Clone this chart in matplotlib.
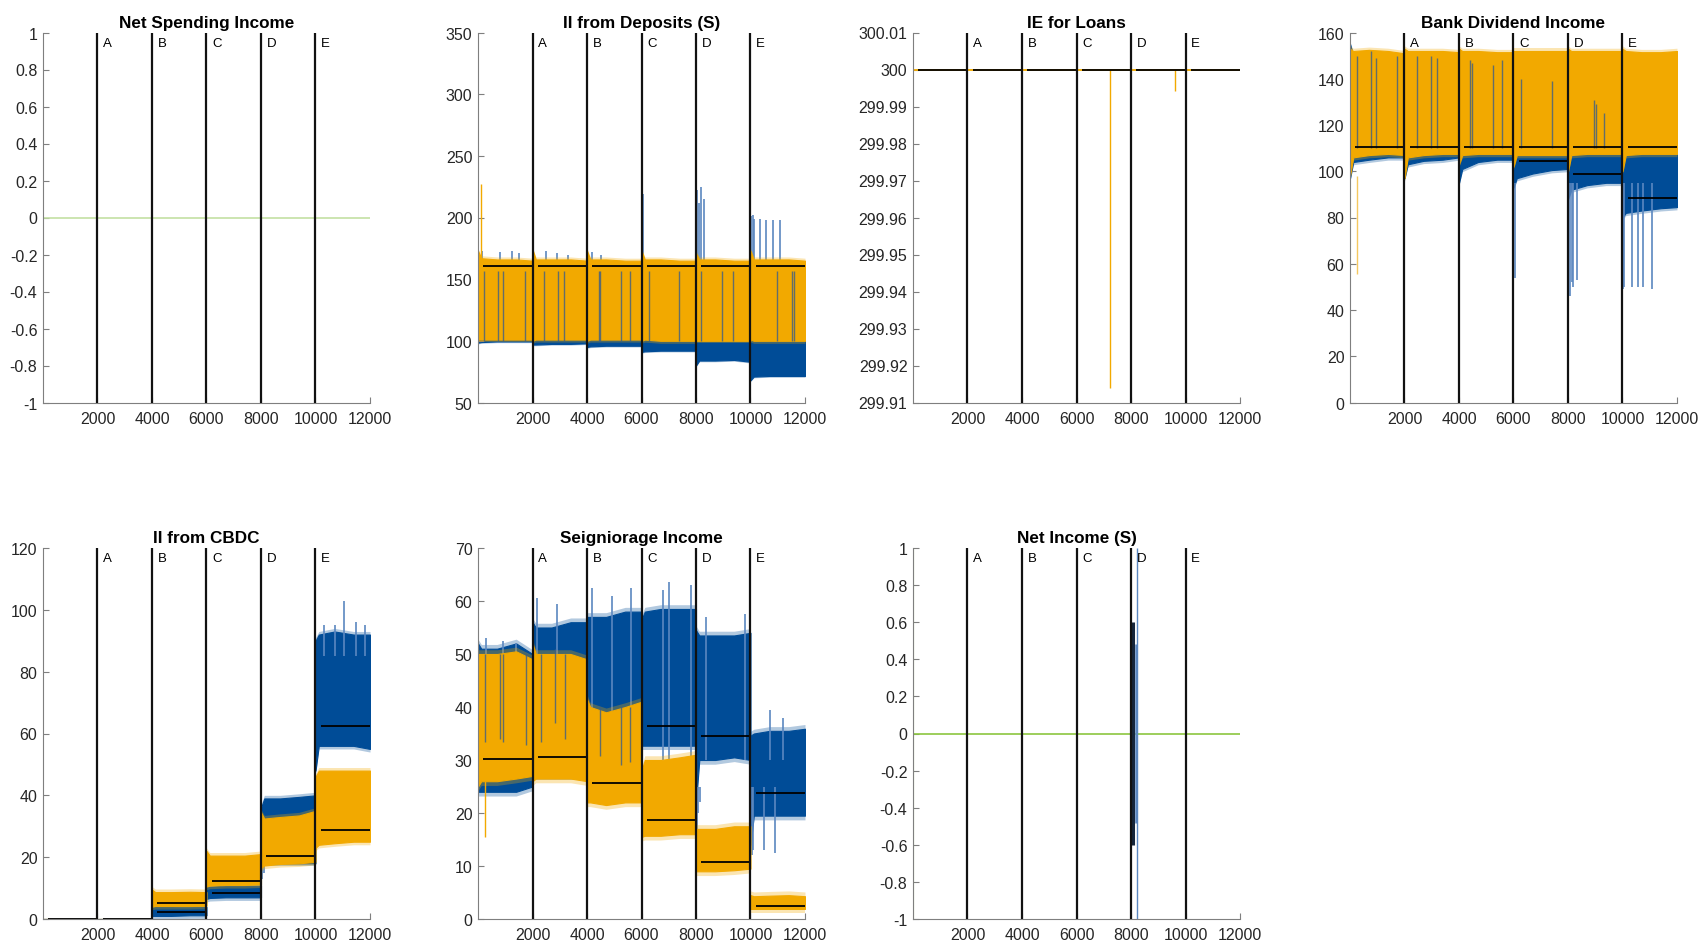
import numpy as np
import matplotlib.pyplot as plt
from matplotlib.transforms import blended_transform_factory

plt.rcParams['font.family'] = ['Liberation Sans', 'DejaVu Sans']

# Couleurs des deux séries
BLEU = '#004C97'
BLEU_CLAIR = '#5b87c0'
ORANGE = '#F2A900'
GRIS_AXE = '#7f7f7f'

# Bornes des scénarios et lettres associées
bornes = [2000, 4000, 6000, 8000, 10000]
lettres = ['A', 'B', 'C', 'D', 'E']
xticks = [2000, 4000, 6000, 8000, 10000, 12000]

# Position relative des 5 points lus dans chaque segment de 2000 pas
fractions = [0, 0.06, 0.35, 0.7, 1.0]

# II from Deposits (S)
dep_bleu_bas = [[98.5, 99, 99.5, 99.5, 99.5], [97, 97, 97.5, 97.5, 98], [95, 95.5, 96, 96, 96],
                [91, 91.5, 92, 92, 92], [80, 84, 84, 84.5, 83], [68, 71, 71.5, 71.5, 71.5]]
dep_bleu_haut = [[160, 160, 160, 160, 160]] * 6
dep_orange_bas = [[101, 101, 101, 101, 101], [100, 101, 101, 101, 101], [100, 101, 101, 101, 101],
                  [100, 101, 100, 100, 100], [100, 100, 100, 100, 100], [101, 100, 100, 100, 100]]
dep_orange_haut = [[173, 167, 166, 166, 165], [174, 166, 166, 166, 165], [173, 166, 166, 165, 165],
                   [173, 166, 166, 165, 165], [171, 166, 166, 165, 165], [173, 166, 166, 166, 165]]
dep_moy_orange = [160.8, 160.8, 160.6, 160.6, 160.6, 160.6]
dep_pics_bleu_x = [150, 800, 1250, 1500, 2500, 2900, 3300, 4200, 4500, 6040,
                   8030, 8120, 8190, 8290, 10030, 10080, 10130, 10340, 10580, 10830, 11070]
dep_pics_bleu_y = [173, 172, 173, 171, 173, 171, 170, 172, 170, 219,
                   222, 212, 225, 215, 201, 202, 199, 199, 198, 198, 198]
dep_pics_orange_x = [120]
dep_pics_orange_y = [227]
dep_traits_x = [208, 746, 917, 1725, 2422, 2936, 3144, 4428, 4490, 5235, 5565, 6263, 7376,
                8196, 8966, 9358, 10985, 11535, 11584]
dep_traits_haut = [157] * 19
dep_traits_bas = [100] * 19

# IE for Loans
ie_niveau = 300
ie_pics_x = [7241, 9627]
ie_pics_y = [299.9138, 299.9942]

# Bank Dividend Income
div_bleu_bas = [[97, 104, 105, 106, 106], [97, 103, 104.5, 105, 106], [95, 101, 104, 105, 105],
                [93, 97, 99, 100.5, 101], [88, 92, 94, 95, 95], [80, 82, 83, 84, 84.5]]
div_bleu_haut = [[155, 150, 150, 150, 150]] + [[150, 150, 150, 150, 150]] * 5
div_orange_bas = [[98, 106, 107, 107.5, 107], [97, 106, 107, 107.5, 107.5], [103, 107, 107.5, 107.5, 107.5],
                  [102, 107, 107, 107, 107], [100, 107, 107.5, 107.5, 107.5], [100, 107, 107.5, 107.5, 107.5]]
div_orange_haut = [[153, 152, 152.5, 152, 151], [153, 152, 152, 152, 151.5], [153, 152, 152, 151.5, 151.5],
                   [152, 152, 152, 152, 152], [153, 152, 152, 152, 152], [153, 152, 151.5, 151.5, 152]]
div_moy_orange = [110.6, 110.5, 110.5, 110.5, 110.5, 110.5]
div_moy_bleu = [None, None, None, 104.6, 98.8, 88.5]
div_pics_bleu_x = [6055, 8073, 8150, 8200, 8330, 10018, 10060, 10360, 10560, 10750, 11080]
div_pics_bleu_y = [54, 46, 52, 50, 53, 49, 50, 50, 50, 50, 49]
div_pics_orange_x = [268]
div_pics_orange_y = [55.7]
div_traits_x = [245, 771, 942, 1713, 2446, 2961, 3181, 4404, 4495, 5260, 5590, 6263, 7400, 8966, 9010, 9327]
div_traits_haut = [150, 152, 149, 150, 150, 150, 149, 148, 147, 146, 148, 140, 139, 131, 129, 125]
div_traits_bas = [110] * 16

# II from CBDC
cbdc_bleu_bas = [[0, 0, 0, 0, 0], [0, 0, 0, 0, 0], [1, 1, 1, 1.2, 1.2],
                 [6.5, 6.8, 7, 7, 7], [18, 18, 18, 18, 18], [48, 56, 56, 56, 55]]
cbdc_bleu_haut = [[0, 0, 0, 0, 0], [0, 0, 0, 0, 0], [3.8, 3.9, 3.9, 4, 3.9],
                  [10.5, 10.5, 10.8, 10.8, 10.8], [36, 39, 39, 39.5, 40], [90, 92, 93, 92, 92]]
cbdc_orange_bas = [[0, 0, 0, 0, 0], [0, 0, 0, 0, 0], [4, 4.2, 4.2, 4.2, 4.3],
                   [10.5, 10.8, 11, 11, 11.2], [16.5, 17.3, 17.8, 18, 18.5], [23, 24, 24.5, 25, 25]]
cbdc_orange_haut = [[0, 0, 0, 0, 0], [0, 0, 0, 0, 0], [9.5, 8.7, 8.7, 8.8, 8.7],
                    [22, 20.5, 20.5, 20.5, 21], [34.5, 32.5, 33, 33.5, 35], [46, 48, 48, 48, 48]]
cbdc_moy_orange = [0, 0, 5.1, 12.2, 20.5, 28.8]
cbdc_moy_bleu = [None, None, 2.2, 8.4, None, 62.5]
cbdc_pics_bleu_x = [10300, 10700, 11050, 11500, 11800]
cbdc_pics_bleu_y = [95, 95, 103, 96, 95]
cbdc_creux_bleu_x = [8050, 8120]
cbdc_creux_bleu_y = [13, 15]

# Seigniorage Income
sei_bleu_bas = [[24, 24, 24, 24, 25], [27, 27, 27, 27, 27], [36, 36, 36, 36, 36],
                [32.7, 32.7, 32.7, 32.7, 32.7], [22, 30, 30, 30.5, 30], [14, 19.5, 19.5, 19.5, 19.5]]
sei_bleu_haut = [[52, 51, 51, 52, 50], [56, 55, 55, 56, 56], [57, 57, 57, 58, 58],
                 [56.5, 58, 58.5, 58.5, 58.5], [54.5, 53.5, 53.5, 53.5, 54], [34.6, 35, 35.5, 35.5, 35.9]]
sei_orange_bas = [[25, 26, 26, 26.5, 27], [26, 26.5, 26.5, 26.5, 26], [22, 22, 21.5, 22, 22],
                  [15.5, 15.7, 15.7, 16, 16], [9, 9, 9, 9.2, 9.5], [1.9, 1.9, 1.9, 1.9, 1.9]]
sei_orange_haut = [[50, 50, 50, 50.5, 49], [52, 50, 50, 50, 49], [41.5, 40, 39, 40, 41],
                   [28, 30, 30, 30.5, 31], [17, 17, 17, 17.5, 17.5], [4.5, 4.3, 4.4, 4.5, 4.3]]
sei_moy_orange = [30.2, 30.5, 25.7, 18.75, 10.8, 2.5]
sei_moy_bleu = [None, None, None, 36.5, 34.6, 23.7]
sei_pics_bleu_x = [300, 900, 1400, 2150, 2900, 4200, 4900, 5600, 6800, 7000, 7800, 8350, 9800, 10700, 11200]
sei_pics_bleu_y = [53, 52.5, 52, 60.5, 59.5, 62.5, 61, 62.5, 62, 63.5, 63, 57, 57.5, 39.5, 38]
sei_creux_bleu_x = [8030, 8080, 8150, 10040, 10100, 10500, 10900]
sei_creux_bleu_y = [17, 20, 22, 12, 13, 13, 12.5]
sei_pics_orange_x = [250]
sei_pics_orange_y = [15.5]
sei_traits_x = [245, 795, 918, 1750, 2324, 2814, 3180, 4465, 5260, 5566]
sei_traits_haut = [50, 50, 50, 50, 50, 51, 50, 40, 40, 40]
sei_traits_bas = [33.4, 34, 33.4, 32.8, 33.4, 37, 34, 30.8, 29, 29.6]

# Net Income (S)
ni_trait_noir = (8070, -0.6, 0.6)
ni_traits_bleus_x = [8195, 8230]
ni_traits_bleus_bas = [-0.48, -1]
ni_traits_bleus_haut = [0.48, 1]

# Ordre de superposition
Z_BLEU, Z_PICS_BLEU, Z_ORANGE, Z_PICS_ORANGE, Z_TRAITS = 1, 1.5, 2, 2.5, 3


def trace_bande(ax, bas, haut, couleur, frange, z):
    for i in range(len(bas)):
        x = i * 2000 + 1 + np.array(fractions) * 1999
        b = np.array(bas[i], dtype=float)
        h = np.array(haut[i], dtype=float)
        ax.fill_between(x, b, h, color=couleur, lw=0.8, edgecolor=couleur, zorder=z)
        # bord plus clair pour imiter le bruit des séries
        if frange > 0 and (h - b).max() > 0:
            ax.fill_between(x, h, h + frange, color=couleur, lw=0, alpha=0.3, zorder=z)
            ax.fill_between(x, b - frange, b, color=couleur, lw=0, alpha=0.3, zorder=z)


def trace_moyennes(ax, moyennes):
    for i, m in enumerate(moyennes):
        if m is not None:
            ax.hlines(m, i * 2000 + 200, (i + 1) * 2000, color='black', lw=1.3, zorder=4)


def mise_en_forme(ax, titre, yticks):
    ax.set_xlim(0, 12000)
    ax.set_ylim(yticks[0], yticks[-1])
    ax.set_xticks(xticks)
    ax.set_xticklabels([str(t) for t in xticks])
    ax.set_yticks(yticks)
    ax.set_yticklabels([f'{t + 0.0:g}' for t in yticks])
    for s in ['top', 'right']:
        ax.spines[s].set_visible(False)
    for s in ['left', 'bottom']:
        ax.spines[s].set_color(GRIS_AXE)
        ax.spines[s].set_linewidth(0.8)
    ax.tick_params(direction='in', length=4, width=0.8, color=GRIS_AXE,
                   labelcolor='#262626', labelsize=11.5)
    ax.tick_params(axis='x', pad=6)
    ax.tick_params(axis='y', pad=4)
    ax.set_title(titre, fontweight='bold', fontsize=12.3, pad=4)
    # Lignes de séparation des scénarios
    trans = blended_transform_factory(ax.transData, ax.transAxes)
    for b, l in zip(bornes, lettres):
        ax.axvline(b, color='#111111', lw=1.6, zorder=5)
        ax.text(b + 200, 0.972, l, transform=trans, fontsize=9.5, va='center', zorder=6)


fig = plt.figure(figsize=(16.99, 9.45), dpi=100)

W = 327 / 1699
H1 = 370 / 945
H2 = 371 / 945
B1 = 1 - 403.5 / 945
B2 = 1 - 920 / 945
lefts = [43 / 1699, 478 / 1699, 913 / 1699, 1350 / 1699]

# 1 - Net Spending Income
ax1 = fig.add_axes([lefts[0], B1, W, H1])
ax1.axhline(0, color='#c3e0a3', lw=1.2)
mise_en_forme(ax1, 'Net Spending Income', np.round(np.arange(-1, 1.01, 0.2), 1))

# 2 - II from Deposits (S)
ax2 = fig.add_axes([lefts[1], B1, W, H1])
trace_bande(ax2, dep_bleu_bas, dep_bleu_haut, BLEU, 1.0, Z_BLEU)
ax2.vlines(dep_pics_bleu_x, 160, dep_pics_bleu_y, color=BLEU_CLAIR, lw=1.2, zorder=Z_PICS_BLEU)
trace_bande(ax2, dep_orange_bas, dep_orange_haut, ORANGE, 2.0, Z_ORANGE)
ax2.vlines(dep_pics_orange_x, 165, dep_pics_orange_y, color=ORANGE, lw=1, zorder=Z_PICS_ORANGE)
ax2.vlines(dep_traits_x, dep_traits_bas, dep_traits_haut, color='#3f5f84', lw=1, alpha=0.8, zorder=Z_TRAITS)
trace_moyennes(ax2, dep_moy_orange)
mise_en_forme(ax2, 'II from Deposits (S)', np.arange(50, 351, 50))

# 3 - IE for Loans
ax3 = fig.add_axes([lefts[2], B1, W, H1])
ax3.axhline(ie_niveau, color=ORANGE, lw=1.3)
ax3.vlines(ie_pics_x, ie_niveau, ie_pics_y, color=ORANGE, lw=1)
trace_moyennes(ax3, [ie_niveau] * 6)
mise_en_forme(ax3, 'IE for Loans', np.round(np.arange(299.91, 300.015, 0.01), 2))

# 4 - Bank Dividend Income
ax4 = fig.add_axes([lefts[3], B1, W, H1])
trace_bande(ax4, div_bleu_bas, div_bleu_haut, BLEU, 1.2, Z_BLEU)
ax4.vlines(div_pics_bleu_x, div_pics_bleu_y, 95, color=BLEU_CLAIR, lw=1.2, zorder=Z_PICS_BLEU)
trace_bande(ax4, div_orange_bas, div_orange_haut, ORANGE, 1.2, Z_ORANGE)
ax4.vlines(div_pics_orange_x, div_pics_orange_y, 98, color='#f5c860', lw=1, zorder=Z_PICS_ORANGE)
ax4.vlines(div_traits_x, div_traits_bas, div_traits_haut, color='#3f5f84', lw=1, alpha=0.8, zorder=Z_TRAITS)
trace_moyennes(ax4, div_moy_orange)
trace_moyennes(ax4, div_moy_bleu)
mise_en_forme(ax4, 'Bank Dividend Income', np.arange(0, 161, 20))

# 5 - II from CBDC
ax5 = fig.add_axes([lefts[0], B2, W, H2])
trace_bande(ax5, cbdc_bleu_bas, cbdc_bleu_haut, BLEU, 1.0, Z_BLEU)
ax5.vlines(cbdc_pics_bleu_x, 85, cbdc_pics_bleu_y, color=BLEU_CLAIR, lw=1.2, zorder=Z_PICS_BLEU)
ax5.vlines(cbdc_creux_bleu_x, cbdc_creux_bleu_y, 25, color=BLEU_CLAIR, lw=1.2, zorder=Z_PICS_BLEU)
trace_bande(ax5, cbdc_orange_bas, cbdc_orange_haut, ORANGE, 1.0, Z_ORANGE)
trace_moyennes(ax5, cbdc_moy_orange)
trace_moyennes(ax5, cbdc_moy_bleu)
mise_en_forme(ax5, 'II from CBDC', np.arange(0, 121, 20))

# 6 - Seigniorage Income
ax6 = fig.add_axes([lefts[1], B2, W, H2])
trace_bande(ax6, sei_bleu_bas, sei_bleu_haut, BLEU, 0.8, Z_BLEU)
ax6.vlines(sei_pics_bleu_x, 30, sei_pics_bleu_y, color=BLEU_CLAIR, lw=1.2, zorder=Z_PICS_BLEU)
ax6.vlines(sei_creux_bleu_x, sei_creux_bleu_y, 25, color=BLEU_CLAIR, lw=1.2, zorder=Z_PICS_BLEU)
trace_bande(ax6, sei_orange_bas, sei_orange_haut, ORANGE, 0.8, Z_ORANGE)
ax6.vlines(sei_pics_orange_x, sei_pics_orange_y, 26, color=ORANGE, lw=1, zorder=Z_PICS_ORANGE)
ax6.vlines(sei_traits_x, sei_traits_bas, sei_traits_haut, color='#3f5f84', lw=1, alpha=0.8, zorder=Z_TRAITS)
trace_moyennes(ax6, sei_moy_orange)
trace_moyennes(ax6, sei_moy_bleu)
mise_en_forme(ax6, 'Seigniorage Income', np.arange(0, 71, 10))

# 7 - Net Income (S)
ax7 = fig.add_axes([lefts[2], B2, W, H2])
ax7.axhline(0, color='#8cc63f', lw=1.2)
ax7.vlines(1, -1, 1, color='#8cc63f', lw=1.5)
ax7.vlines(ni_trait_noir[0], ni_trait_noir[1], ni_trait_noir[2], color='#15253a', lw=2.2, zorder=4)
ax7.vlines(ni_traits_bleus_x, ni_traits_bleus_bas, ni_traits_bleus_haut, color=BLEU_CLAIR,
           lw=[1.8, 1.0], zorder=4)
mise_en_forme(ax7, 'Net Income (S)', np.round(np.arange(-1, 1.01, 0.2), 1))

fig.savefig('out.png', dpi=100)
